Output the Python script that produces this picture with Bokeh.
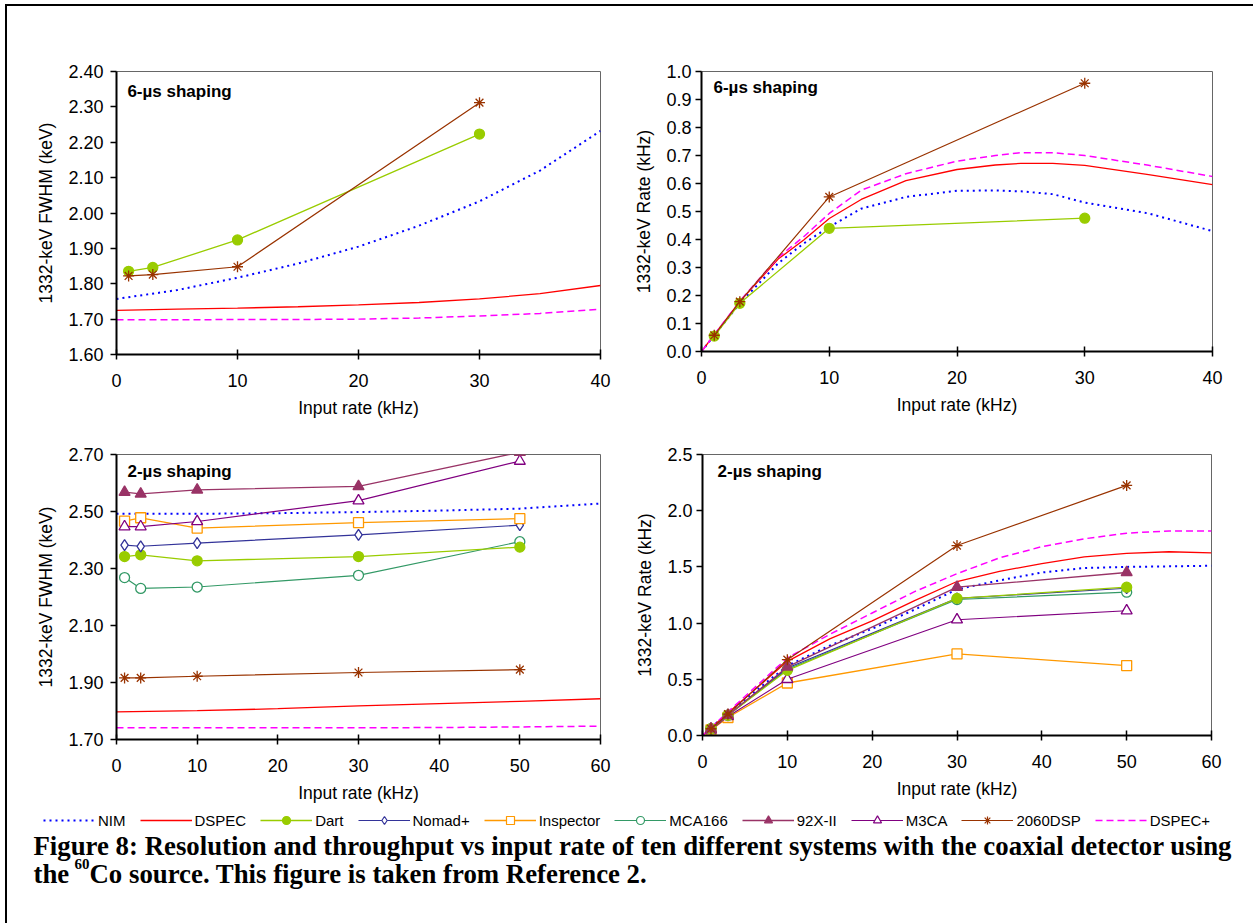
from bokeh.plotting import figure
from bokeh.models import (Range1d, FixedTicker, PrintfTickFormatter, Label,
                          Legend, LegendItem)
from bokeh.layouts import column, row
from bokeh.embed import file_html
from bokeh.resources import INLINE

SANS = "Liberation Sans"
SERIF = "Liberation Serif"

# ---------------------------------------------------------------- data
# measured systems: input rates (kHz)
x_meas_6us = [1, 3, 10, 30]
x_meas_2us = [1, 3, 10, 30, 50]

# 6-us shaping, 1332-keV FWHM (keV)
dart_fwhm_6us = [1.835, 1.846, 1.924, 2.223]
dsp2060_fwhm_6us = [1.822, 1.826, 1.848, 2.312]
x_curve_fwhm_6us = [0, 5, 10, 15, 20, 25, 30, 35, 40]
nim_fwhm_6us = [1.757, 1.782, 1.817, 1.857, 1.905, 1.964, 2.033, 2.120, 2.232]
dspec_fwhm_6us = [1.725, 1.728, 1.731, 1.735, 1.740, 1.747, 1.757, 1.772, 1.795]
dspecp_fwhm_6us = [1.698, 1.698, 1.699, 1.699, 1.700, 1.703, 1.709, 1.716, 1.728]

# 6-us shaping, 1332-keV rate (kHz)
dart_rate_6us = [0.055, 0.172, 0.440, 0.476]
dsp2060_rate_6us = [0.058, 0.178, 0.552, 0.958]
x_curve_rate_6us = [0, 1, 3, 6, 8, 10, 12.5, 16, 20, 23, 25, 27.5, 30, 35, 40]
nim_rate_6us = [0, 0.058, 0.172, 0.315, 0.386, 0.445, 0.510, 0.552, 0.574,
                0.575, 0.572, 0.562, 0.532, 0.493, 0.430]
dspec_rate_6us = [0, 0.060, 0.178, 0.330, 0.398, 0.475, 0.543, 0.610, 0.650,
                  0.666, 0.672, 0.672, 0.665, 0.632, 0.596]
dspecp_rate_6us = [0, 0.060, 0.180, 0.336, 0.410, 0.493, 0.576, 0.635, 0.680,
                   0.700, 0.710, 0.710, 0.700, 0.665, 0.625]

# 2-us shaping, 1332-keV FWHM (keV)
dart_fwhm_2us = [2.342, 2.348, 2.327, 2.342, 2.375]
nomad_fwhm_2us = [2.382, 2.378, 2.389, 2.418, 2.452]
inspector_fwhm_2us = [2.466, 2.478, 2.442, 2.461, 2.475]
mca166_fwhm_2us = [2.268, 2.230, 2.235, 2.276, 2.394]
x92_fwhm_2us = [2.568, 2.562, 2.576, 2.588, 2.708]
m3ca_fwhm_2us = [2.447, 2.447, 2.465, 2.538, 2.677]
dsp2060_fwhm_2us = [1.916, 1.916, 1.922, 1.935, 1.945]
x_curve_fwhm_2us = [0, 10, 20, 30, 40, 50, 60]
nim_fwhm_2us = [2.492, 2.492, 2.494, 2.498, 2.503, 2.510, 2.528]
dspec_fwhm_2us = [1.797, 1.801, 1.808, 1.818, 1.826, 1.834, 1.843]
dspecp_fwhm_2us = [1.741, 1.741, 1.741, 1.741, 1.742, 1.744, 1.747]

# 2-us shaping, 1332-keV rate (kHz)
dart_rate_2us = [0.06, 0.18, 0.58, 1.22, 1.32]
nomad_rate_2us = [0.06, 0.18, 0.60, 1.22, 1.31]
inspector_rate_2us = [0.05, 0.16, 0.467, 0.726, 0.622]
mca166_rate_2us = [0.06, 0.18, 0.59, 1.21, 1.275]
x92_rate_2us = [0.06, 0.18, 0.61, 1.32, 1.45]
m3ca_rate_2us = [0.05, 0.17, 0.50, 1.03, 1.11]
dsp2060_rate_2us = [0.06, 0.19, 0.675, 1.69, 2.225]
x_curve_rate_2us = [0, 1, 3, 10, 15, 20, 25, 30, 35, 40, 45, 50, 55, 60]
nim_rate_2us = [0, 0.07, 0.20, 0.62, 0.80, 0.95, 1.12, 1.30, 1.38, 1.45,
                1.49, 1.50, 1.505, 1.51]
dspec_rate_2us = [0, 0.07, 0.20, 0.66, 0.86, 1.02, 1.20, 1.37, 1.46, 1.53,
                  1.59, 1.62, 1.635, 1.625]
dspecp_rate_2us = [0, 0.07, 0.21, 0.69, 0.90, 1.09, 1.28, 1.44, 1.58, 1.68,
                   1.75, 1.80, 1.82, 1.82]

# tick positions
ticks_x_40 = [0, 10, 20, 30, 40]
ticks_x_60 = [0, 10, 20, 30, 40, 50, 60]
ticks_fwhm_6us = [1.60, 1.70, 1.80, 1.90, 2.00, 2.10, 2.20, 2.30, 2.40]
ticks_rate_6us = [0.0, 0.1, 0.2, 0.3, 0.4, 0.5, 0.6, 0.7, 0.8, 0.9, 1.0]
ticks_fwhm_2us = [1.70, 1.90, 2.10, 2.30, 2.50, 2.70]
ticks_rate_2us = [0.0, 0.5, 1.0, 1.5, 2.0, 2.5]

systems = ["NIM", "DSPEC", "Dart", "Nomad+", "Inspector", "MCA166",
           "92X-II", "M3CA", "2060DSP", "DSPEC+"]

# per-system series of the 2-us rate panel (also feeds the legend swatches)
rate_2us = {
    "NIM": (x_curve_rate_2us, nim_rate_2us),
    "DSPEC": (x_curve_rate_2us, dspec_rate_2us),
    "Dart": (x_meas_2us, dart_rate_2us),
    "Nomad+": (x_meas_2us, nomad_rate_2us),
    "Inspector": (x_meas_2us, inspector_rate_2us),
    "MCA166": (x_meas_2us, mca166_rate_2us),
    "92X-II": (x_meas_2us, x92_rate_2us),
    "M3CA": (x_meas_2us, m3ca_rate_2us),
    "2060DSP": (x_meas_2us, dsp2060_rate_2us),
    "DSPEC+": (x_curve_rate_2us, dspecp_rate_2us),
}

# ---------------------------------------------------------------- styles
STYLE = {
    "NIM":       dict(color="#0000FF", width=2.0, dash="2 4", marker=None),
    "DSPEC":     dict(color="#FF0000", width=1.3, dash="solid", marker=None),
    "Dart":      dict(color="#99CC00", width=1.3, dash="solid", marker="circle", fill="#99CC00", size=10),
    "Nomad+":    dict(color="#333399", width=1.2, dash="solid", marker="diamond", fill="white", size=11),
    "Inspector": dict(color="#FF9900", width=1.3, dash="solid", marker="square", fill="white", size=10),
    "MCA166":    dict(color="#339966", width=1.2, dash="solid", marker="circle", fill="white", size=10),
    "92X-II":    dict(color="#993366", width=1.3, dash="solid", marker="triangle", fill="#993366", size=11),
    "M3CA":      dict(color="#800080", width=1.2, dash="solid", marker="triangle", fill="white", size=11),
    "2060DSP":   dict(color="#993300", width=1.2, dash="solid", marker="asterisk", fill=None, size=11),
    "DSPEC+":    dict(color="#FF00FF", width=1.5, dash="7 4", marker=None),
}


def make_panel(xticks, ylo, yhi, yticks, yfmt, ytitle, fw, fh,
               left, right, top, bottom, ylab_standoff):
    p = figure(x_range=Range1d(0, xticks[-1]), y_range=Range1d(ylo, yhi),
               frame_width=fw, frame_height=fh,
               min_border_left=left, min_border_right=right,
               min_border_top=top, min_border_bottom=bottom,
               output_backend="svg", toolbar_location=None,
               background_fill_color="white", border_fill_color="white")
    p.grid.visible = False
    p.outline_line_color = "#666666"
    p.outline_line_width = 1

    xa, ya = p.xaxis[0], p.yaxis[0]
    xa.ticker = FixedTicker(ticks=xticks)
    xa.formatter = PrintfTickFormatter(format="%d")
    ya.ticker = FixedTicker(ticks=yticks)
    ya.formatter = PrintfTickFormatter(format=yfmt)
    ya.minor_tick_line_color = None
    xa.minor_tick_line_color = None

    for ax in (xa, ya):
        ax.axis_line_color = "black"
        ax.axis_line_width = 2
        ax.major_tick_line_color = "black"
        ax.major_tick_line_width = 1.5
        ax.major_label_text_font = SANS
        ax.major_label_text_font_size = "18px"
        ax.major_label_text_color = "black"
        ax.axis_label_text_font = SANS
        ax.axis_label_text_font_size = "17.5px"
        ax.axis_label_text_font_style = "normal"
        ax.axis_label_text_color = "black"

    xa.major_tick_in = 5
    xa.major_tick_out = 5
    xa.major_label_standoff = 14
    xa.axis_label = "Input rate (kHz)"
    xa.axis_label_standoff = 8

    ya.major_tick_in = 0
    ya.major_tick_out = 6
    ya.major_label_standoff = ylab_standoff
    ya.axis_label = ytitle
    ya.axis_label_standoff = 9
    return p


def draw_series(p, name, xs, ys):
    st = STYLE[name]
    p.line(xs, ys, line_color=st["color"], line_width=st["width"],
           line_dash=st["dash"])
    if st["marker"] is not None:
        p.scatter(xs, ys, marker=st["marker"], size=st["size"],
                  line_color=st["color"], line_width=1.3,
                  fill_color=st["fill"])


def shaping_label(p, text, x, y):
    p.add_layout(Label(x=x, y=y, text=text, text_font=SANS,
                       text_font_size="17px", text_font_style="bold",
                       text_baseline="middle", text_color="black"))


# ---------------------------------------------------------------- 6 us, FWHM
p1 = make_panel(ticks_x_40, 1.60, 2.40, ticks_fwhm_6us, "%.2f",
                "1332-keV FWHM (keV)", 484, 283, 109, 20, 65, 70, 7)
draw_series(p1, "DSPEC+", x_curve_fwhm_6us, dspecp_fwhm_6us)
draw_series(p1, "DSPEC", x_curve_fwhm_6us, dspec_fwhm_6us)
draw_series(p1, "NIM", x_curve_fwhm_6us, nim_fwhm_6us)
draw_series(p1, "Dart", x_meas_6us, dart_fwhm_6us)
draw_series(p1, "2060DSP", x_meas_6us, dsp2060_fwhm_6us)
shaping_label(p1, "6-µs shaping", 0.9, 2.343)

# ---------------------------------------------------------------- 6 us, rate
p2 = make_panel(ticks_x_40, 0.0, 1.0, ticks_rate_6us, "%.1f",
                "1332-keV Rate (kHz)", 511, 280, 81, 41, 65, 73, 4)
draw_series(p2, "NIM", x_curve_rate_6us, nim_rate_6us)
draw_series(p2, "DSPEC", x_curve_rate_6us, dspec_rate_6us)
draw_series(p2, "DSPEC+", x_curve_rate_6us, dspecp_rate_6us)
draw_series(p2, "Dart", x_meas_6us, dart_rate_6us)
draw_series(p2, "2060DSP", x_meas_6us, dsp2060_rate_6us)
shaping_label(p2, "6-µs shaping", 0.94, 0.943)

# ---------------------------------------------------------------- 2 us, FWHM
p3 = make_panel(ticks_x_60, 1.70, 2.70, ticks_fwhm_2us, "%.2f",
                "1332-keV FWHM (keV)", 484, 285, 109, 20, 29, 70, 7)
draw_series(p3, "DSPEC+", x_curve_fwhm_2us, dspecp_fwhm_2us)
draw_series(p3, "DSPEC", x_curve_fwhm_2us, dspec_fwhm_2us)
draw_series(p3, "NIM", x_curve_fwhm_2us, nim_fwhm_2us)
draw_series(p3, "2060DSP", x_meas_2us, dsp2060_fwhm_2us)
draw_series(p3, "MCA166", x_meas_2us, mca166_fwhm_2us)
draw_series(p3, "Dart", x_meas_2us, dart_fwhm_2us)
draw_series(p3, "Nomad+", x_meas_2us, nomad_fwhm_2us)
draw_series(p3, "Inspector", x_meas_2us, inspector_fwhm_2us)
draw_series(p3, "M3CA", x_meas_2us, m3ca_fwhm_2us)
draw_series(p3, "92X-II", x_meas_2us, x92_fwhm_2us)
shaping_label(p3, "2-µs shaping", 1.36, 2.64)

# ---------------------------------------------------------------- 2 us, rate
p4 = make_panel(ticks_x_60, 0.0, 2.5, ticks_rate_2us, "%.1f",
                "1332-keV Rate (kHz)", 509, 281, 82, 41, 30, 73, 4)
for name in ["NIM", "DSPEC", "DSPEC+", "Inspector", "M3CA", "MCA166",
             "Nomad+", "Dart", "92X-II", "2060DSP"]:
    draw_series(p4, name, *rate_2us[name])
shaping_label(p4, "2-µs shaping", 1.77, 2.35)

# ---------------------------------------------------------------- legend + caption
# the ranges of this strip lie outside every data value, so its renderers
# only show up as legend swatches
cap = figure(x_range=Range1d(-2, -1), y_range=Range1d(-2, -1),
             width=1245, height=115, min_border=0,
             output_backend="svg", toolbar_location=None)
cap.axis.visible = False
cap.grid.visible = False
cap.outline_line_color = None

items = []
for name in systems:
    st = STYLE[name]
    xs, ys = rate_2us[name]
    rs = [cap.line(xs, ys, line_color=st["color"], line_width=st["width"],
                   line_dash=st["dash"])]
    if st["marker"] is not None:
        rs.append(cap.scatter(xs, ys, marker=st["marker"], size=8,
                              line_color=st["color"], line_width=1.2,
                              fill_color=st["fill"]))
    items.append(LegendItem(label=name, renderers=rs))

legend = Legend(items=items, orientation="horizontal", location=(36, 93),
                glyph_width=52, glyph_height=20, label_standoff=3,
                spacing=14, padding=0, margin=0,
                label_text_font=SANS, label_text_font_size="15px",
                label_text_color="black", label_height=20,
                border_line_color=None, background_fill_alpha=0)
cap.add_layout(legend)

cap_font = dict(text_font=SERIF, text_font_style="bold", text_color="black",
                x_units="screen", y_units="screen", text_baseline="alphabetic")
cap.add_layout(Label(x=26, y=78, text="Figure 8: Resolution and throughput vs input rate "
                     "of ten different systems with the coaxial detector using",
                     text_font_size="26.8px", **cap_font))
cap.add_layout(Label(x=26, y=50, text="the", text_font_size="26.8px", **cap_font))
cap.add_layout(Label(x=67, y=60, text="60", text_font_size="15px", **cap_font))
cap.add_layout(Label(x=82, y=50, text="Co source. This figure is taken from Reference 2.",
                     text_font_size="26.8px", **cap_font))

layout = column(row(p1, p2), row(p3, p4), cap,
                styles={"border-left": "2px solid black",
                        "border-top": "2px solid black",
                        "margin-left": "5px", "margin-top": "4px"})

open("out.html", "w").write(file_html(layout, INLINE))
